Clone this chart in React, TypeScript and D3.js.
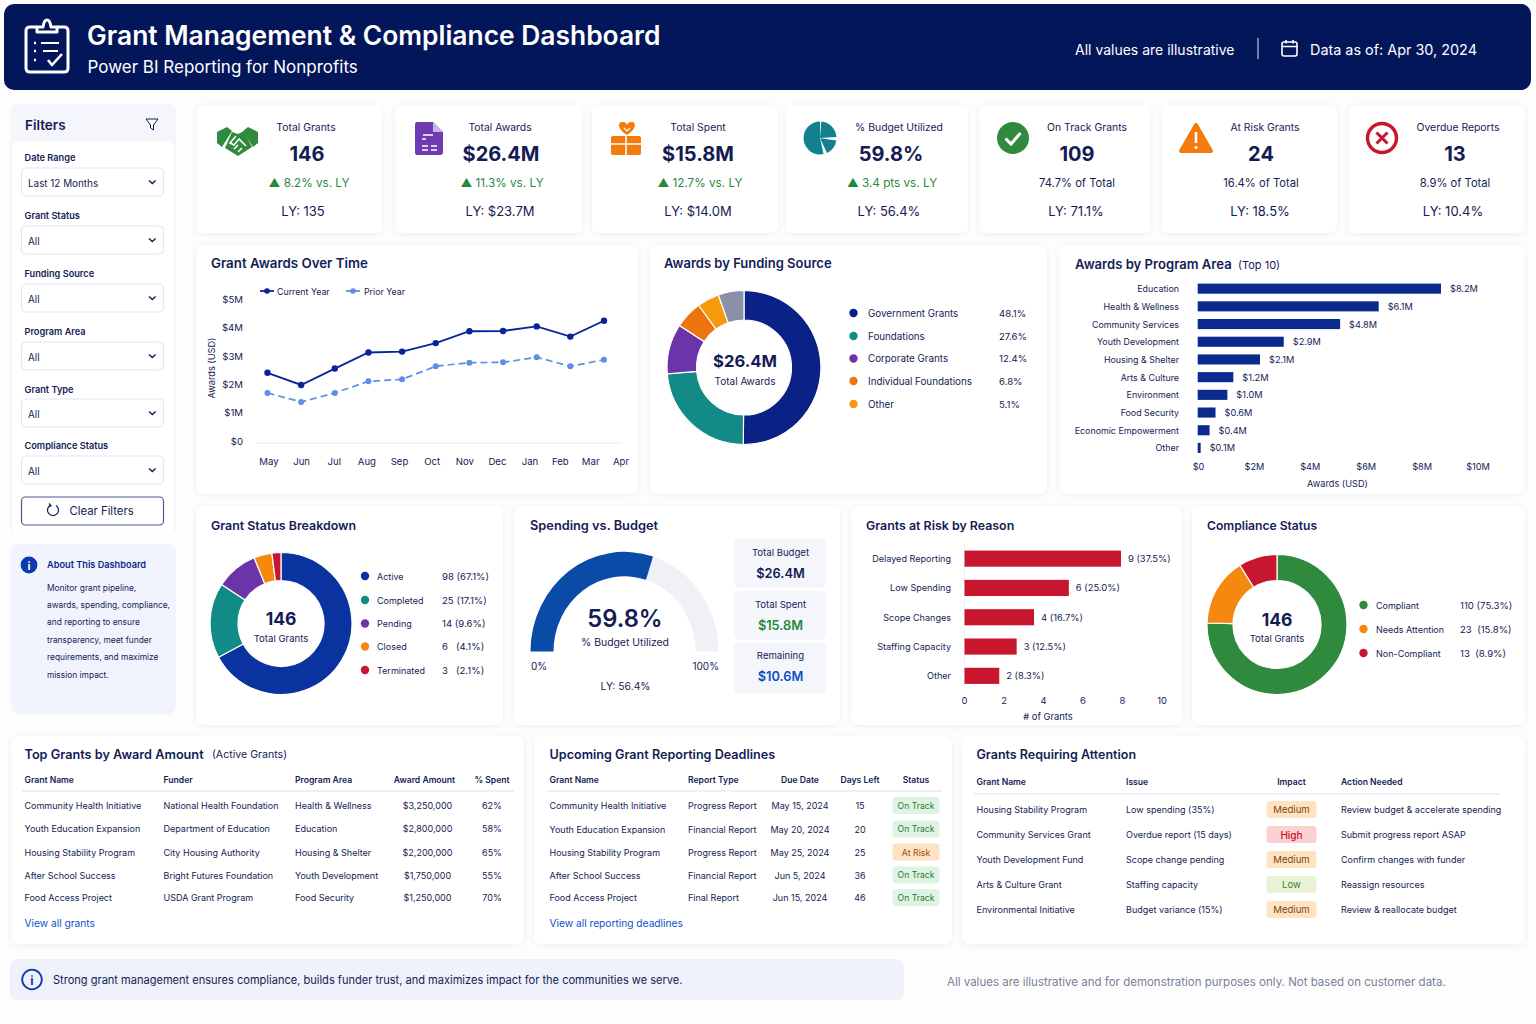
import * as d3 from "d3";

const FONT = "Inter, 'Noto Sans', sans-serif";
const INK = "#141c55";
const NAVY = "#0a2a8e";
const GREEN = "#2f8a3e";
const RED = "#c8162e";
const ORANGE = "#f47c0e";
const AMBER = "#f59a0c";
const TEAL = "#128a86";
const PURPLE = "#6b34a8";
const LINK = "#0b50c8";

// KPI row
const kpiLabels = ["Total Grants", "Total Awards", "Total Spent", "% Budget Utilized", "On Track Grants", "At Risk Grants", "Overdue Reports"];
const kpiValues = ["146", "$26.4M", "$15.8M", "59.8%", "109", "24", "13"];
const kpiNotes = ["▲ 8.2% vs. LY", "▲ 11.3% vs. LY", "▲ 12.7% vs. LY", "▲ 3.4 pts vs. LY", "74.7% of Total", "16.4% of Total", "8.9% of Total"];
const kpiLastYear = ["LY: 135", "LY: $23.7M", "LY: $14.0M", "LY: 56.4%", "LY: 71.1%", "LY: 18.5%", "LY: 10.4%"];

// filters
const filterLabels = ["Date Range", "Grant Status", "Funding Source", "Program Area", "Grant Type", "Compliance Status"];
const filterValues = ["Last 12 Months", "All", "All", "All", "All", "All"];
const aboutLines = [
  "Monitor grant pipeline,",
  "awards, spending, compliance,",
  "and reporting to ensure",
  "transparency, meet funder",
  "requirements, and maximize",
  "mission impact.",
];

// awards over time
const months = ["May", "Jun", "Jul", "Aug", "Sep", "Oct", "Nov", "Dec", "Jan", "Feb", "Mar", "Apr"];
const currentYear = [2.48, 2.05, 2.63, 3.2, 3.23, 3.53, 3.95, 3.96, 4.12, 3.76, 4.32];
const priorYear = [1.77, 1.45, 1.77, 2.18, 2.25, 2.71, 2.84, 2.85, 3.03, 2.71, 2.94];
const awardTicks = [0, 1, 2, 3, 4, 5];

// funding source
const fundingLabels = ["Government Grants", "Foundations", "Corporate Grants", "Individual Foundations", "Other"];
const fundingShares = ["48.1%", "27.6%", "12.4%", "6.8%", "5.1%"];
const fundingSlices = [50.1, 23.5, 10.5, 5.8, 4.6, 5.4];

// program area
const programLabels = ["Education", "Health & Wellness", "Community Services", "Youth Development", "Housing & Shelter", "Arts & Culture", "Environment", "Food Security", "Economic Empowerment", "Other"];
const programValues = [8.2, 6.1, 4.8, 2.9, 2.1, 1.2, 1.0, 0.6, 0.4, 0.1];
const programTicks = [0, 2, 4, 6, 8, 10];

// status
const statusLabels = ["Active", "Completed", "Pending", "Closed", "Terminated"];
const statusValues = [98, 25, 14, 6, 3];
const statusShares = ["98 (67.1%)", "25 (17.1%)", "14 (9.6%)", "6   (4.1%)", "3   (2.1%)"];

// spending
const budgetUtilized = 59.8;
const spendLabels = ["Total Budget", "Total Spent", "Remaining"];
const spendValues = ["$26.4M", "$15.8M", "$10.6M"];

// risk
const riskLabels = ["Delayed Reporting", "Low Spending", "Scope Changes", "Staffing Capacity", "Other"];
const riskValues = [9, 6, 4, 3, 2];
const riskShares = ["9 (37.5%)", "6 (25.0%)", "4 (16.7%)", "3 (12.5%)", "2 (8.3%)"];
const riskTicks = [0, 2, 4, 6, 8, 10];

// compliance
const complianceLabels = ["Compliant", "Needs Attention", "Non-Compliant"];
const complianceValues = [110, 23, 13];
const complianceShares = ["110 (75.3%)", "23  (15.8%)", "13  (8.9%)"];

// tables
const topGrantHeaders = ["Grant Name", "Funder", "Program Area", "Award Amount", "% Spent"];
const topGrantRows = [
  ["Community Health Initiative", "National Health Foundation", "Health & Wellness", "$3,250,000", "62%"],
  ["Youth Education Expansion", "Department of Education", "Education", "$2,800,000", "58%"],
  ["Housing Stability Program", "City Housing Authority", "Housing & Shelter", "$2,200,000", "65%"],
  ["After School Success", "Bright Futures Foundation", "Youth Development", "$1,750,000", "55%"],
  ["Food Access Project", "USDA Grant Program", "Food Security", "$1,250,000", "70%"],
];
const deadlineHeaders = ["Grant Name", "Report Type", "Due Date", "Days Left", "Status"];
const deadlineRows = [
  ["Community Health Initiative", "Progress Report", "May 15, 2024", "15", "On Track"],
  ["Youth Education Expansion", "Financial Report", "May 20, 2024", "20", "On Track"],
  ["Housing Stability Program", "Progress Report", "May 25, 2024", "25", "At Risk"],
  ["After School Success", "Financial Report", "Jun 5, 2024", "36", "On Track"],
  ["Food Access Project", "Final Report", "Jun 15, 2024", "46", "On Track"],
];
const attentionHeaders = ["Grant Name", "Issue", "Impact", "Action Needed"];
const attentionRows = [
  ["Housing Stability Program", "Low spending (35%)", "Medium", "Review budget & accelerate spending"],
  ["Community Services Grant", "Overdue report (15 days)", "High", "Submit progress report ASAP"],
  ["Youth Development Fund", "Scope change pending", "Medium", "Confirm changes with funder"],
  ["Arts & Culture Grant", "Staffing capacity", "Low", "Reassign resources"],
  ["Environmental Initiative", "Budget variance (15%)", "Medium", "Review & reallocate budget"],
];

const BADGE: Record<string, { bg: string; fg: string; size: number }> = {
  "On Track": { bg: "#dff3e2", fg: "#1f7a35", size: 8.6 },
  "At Risk": { bg: "#fde3c4", fg: "#a3470e", size: 8.8 },
  Medium: { bg: "#fde3c0", fg: "#7d4310", size: 9.6 },
  High: { bg: "#fbd0d3", fg: "#c8102e", size: 10 },
  Low: { bg: "#e8f3d6", fg: "#3f7a3a", size: 9.6 },
};

// layout
const KPI_CARDS = [[197, 382], [395, 582], [592, 778], [786, 968], [979, 1150], [1162, 1337], [1349, 1525]];
const KPI_X = [
  [306, 307, 309, 303],
  [500, 501, 502, 500],
  [698, 698, 700, 698],
  [899, 891, 892, 889],
  [1087, 1077, 1077, 1076],
  [1265, 1261, 1261, 1260],
  [1458, 1455, 1455, 1453],
];
const FILTER_BOX_Y = [168, 226, 284, 342, 399, 456];
const FILTER_LABEL_Y = [157.5, 215.5, 273, 331, 389, 445];
const PANELS = [
  [196, 245, 442, 249], [650, 245, 397, 249], [1059, 245, 466, 249],
  [196, 506, 307, 219], [514, 506, 326, 219], [851, 506, 331, 219], [1192, 506, 333, 219],
  [11, 736, 513, 208], [534, 736, 418, 208], [962, 736, 563, 208],
];

function T({ x, y, size = 10, weight = 400, fill = INK, anchor = "start", children, ...rest }: any) {
  return (
    <text x={x} y={y} fontSize={size} fontWeight={weight} fill={fill} textAnchor={anchor} dominantBaseline="central" fontFamily={FONT} style={{ whiteSpace: "pre" }} {...rest}>
      {children}
    </text>
  );
}

function Donut({ cx, cy, outer, inner, values, colors }: { cx: number; cy: number; outer: number; inner: number; values: number[]; colors: string[] }) {
  const arcs = d3.pie<number>().sort(null)(values);
  const arc = d3.arc<d3.PieArcDatum<number>>().innerRadius(inner).outerRadius(outer);
  return (
    <g transform={`translate(${cx},${cy})`}>
      {arcs.map((a, i) => (
        <path key={i} d={arc(a) as string} fill={colors[i]} stroke="#fff" strokeWidth={1.2} />
      ))}
    </g>
  );
}

function Legend({ labels, colors, values, ys, dotX, labelX, valueX, size = 9.8 }: any) {
  return (
    <g>
      {labels.map((l: string, i: number) => (
        <g key={l}>
          <circle cx={dotX} cy={ys[i]} r={4.2} fill={colors[i]} />
          <T x={labelX} y={ys[i]} size={size}>{l}</T>
          <T x={valueX} y={ys[i]} size={9.6}>{values[i]}</T>
        </g>
      ))}
    </g>
  );
}

function Badge({ cx, y, w, label }: { cx: number; y: number; w: number; label: string }) {
  const c = BADGE[label];
  return (
    <g>
      <rect x={cx - w / 2} y={y - 8.5} width={w} height={17} rx={3.5} fill={c.bg} />
      <T x={cx} y={y} size={c.size} anchor="middle" fill={c.fg} weight={label === "High" ? 500 : 400}>{label}</T>
    </g>
  );
}

function LineChart() {
  const y = d3.scaleLinear().domain([0, 5]).range([443, 301.5]);
  const xPts = d3.scalePoint<string>().domain(months.slice(0, currentYear.length)).range([267.5, 604]);
  // the month labels are not evenly spread in the picture
  const xLabels = d3.scaleLinear().domain([0, 8, 11]).range([269, 530, 621]);
  const line = d3.line<number>().x((_, i) => xPts(months[i]) as number).y((d) => y(d));
  return (
    <g>
      <T x={211} y={263} size={13.3} weight={600}>Grant Awards Over Time</T>
      <line x1={260} x2={274} y1={291} y2={291} stroke="#08249a" strokeWidth={1.8} />
      <circle cx={267} cy={291} r={2.8} fill="#08249a" />
      <T x={277} y={291} size={8.8}>Current Year</T>
      <line x1={346} x2={360} y1={291} y2={291} stroke="#5e8fe6" strokeWidth={1.8} />
      <circle cx={353} cy={291} r={2.8} fill="#5e8fe6" />
      <T x={364} y={291} size={8.8}>Prior Year</T>
      {awardTicks.map((t) => (
        <T key={t} x={243} y={y(t) - 2} size={9.6} anchor="end">{`$${t}${t ? "M" : ""}`}</T>
      ))}
      <line x1={256} x2={622} y1={443} y2={443} stroke="#e6e9f5" strokeWidth={1.2} />
      <T x={211} y={368} size={9.2} anchor="middle" transform="rotate(-90 211 368)">Awards (USD)</T>
      {months.map((m, i) => (
        <T key={m} x={xLabels(i)} y={461} size={9.6} anchor="middle">{m}</T>
      ))}
      <path d={line(priorYear) as string} fill="none" stroke="#5e8fe6" strokeWidth={1.7} strokeDasharray="7 4" />
      {priorYear.map((v, i) => (
        <circle key={i} cx={xPts(months[i])} cy={y(v)} r={3} fill="#5e8fe6" />
      ))}
      <path d={line(currentYear) as string} fill="none" stroke="#08249a" strokeWidth={1.9} />
      {currentYear.map((v, i) => (
        <circle key={i} cx={xPts(months[i])} cy={y(v)} r={3.2} fill="#08249a" />
      ))}
    </g>
  );
}

function ProgramBars() {
  const y = d3.scaleBand<string>().domain(programLabels).range([279.8, 456.8]).paddingInner(0.43).paddingOuter(0.215);
  const xBar = d3.scaleLinear().domain([0, 8.2]).range([1197.7, 1441]);
  const xAxis = d3.scaleLinear().domain([0, 10]).range([1198.5, 1478]);
  return (
    <g>
      <T x={1075} y={264} size={13.1} weight={600}>Awards by Program Area</T>
      <T x={1238} y={264.5} size={11}>(Top 10)</T>
      {programLabels.map((l, i) => {
        const cy = (y(l) as number) + y.bandwidth() / 2;
        return (
          <g key={l}>
            <T x={1179} y={cy} size={8.9} anchor="end">{l}</T>
            <rect x={xBar(0)} y={y(l)} width={xBar(programValues[i]) - xBar(0)} height={y.bandwidth()} fill={NAVY} />
            <T x={xBar(programValues[i]) + 9} y={cy} size={9.2}>{`$${programValues[i].toFixed(1)}M`}</T>
          </g>
        );
      })}
      {programTicks.map((t) => (
        <T key={t} x={xAxis(t)} y={466} size={9.2} anchor="middle">{`$${t}${t ? "M" : ""}`}</T>
      ))}
      <T x={1337.5} y={483.5} size={9.2} anchor="middle">Awards (USD)</T>
    </g>
  );
}

function RiskBars() {
  const y = d3.scaleBand<string>().domain(riskLabels).range([544, 690.5]).paddingInner(0.45).paddingOuter(0.225);
  const xBar = d3.scaleLinear().domain([0, 9]).range([964.5, 1121]);
  const xAxis = d3.scaleLinear().domain([0, 10]).range([964.5, 1162]);
  return (
    <g>
      <T x={866} y={525} size={12.4} weight={600}>Grants at Risk by Reason</T>
      <line x1={964.5} x2={964.5} y1={544} y2={690} stroke="#eef0f7" />
      {riskLabels.map((l, i) => {
        const cy = (y(l) as number) + y.bandwidth() / 2;
        return (
          <g key={l}>
            <T x={951} y={cy} size={9.05} anchor="end">{l}</T>
            <rect x={xBar(0)} y={y(l)} width={xBar(riskValues[i]) - xBar(0)} height={y.bandwidth()} fill={RED} />
            <T x={xBar(riskValues[i]) + 7} y={cy} size={9.4}>{riskShares[i]}</T>
          </g>
        );
      })}
      {riskTicks.map((t) => (
        <T key={t} x={xAxis(t)} y={700} size={9.4} anchor="middle">{t}</T>
      ))}
      <T x={1048} y={716} size={9.4} anchor="middle">{"# of Grants"}</T>
    </g>
  );
}

function Gauge() {
  const cx = 624.5;
  const cy = 651.5;
  const pie = d3.scaleLinear().domain([0, 100]).range([-Math.PI / 2, Math.PI / 2]);
  const arc = d3.arc<any>().innerRadius(71).outerRadius(94);
  return (
    <g>
      <T x={530} y={525} size={12.8} weight={600}>Spending vs. Budget</T>
      <g transform={`translate(${cx},${cy}) scale(1,1.06)`}>
        <path d={arc({ startAngle: pie(0), endAngle: pie(100) }) as string} fill="#f0f1f7" />
        <path d={arc({ startAngle: pie(0), endAngle: pie(budgetUtilized) }) as string} fill="#0a4ba8" />
      </g>
      <T x={625} y={618} size={23.7} weight={600} anchor="middle">{`${budgetUtilized}%`}</T>
      <T x={625} y={642} size={10.4} anchor="middle">% Budget Utilized</T>
      <T x={531} y={665.5} size={10}>0%</T>
      <T x={719} y={665.5} size={10} anchor="end">100%</T>
      <T x={625.5} y={686} size={10.4} anchor="middle">LY: 56.4%</T>
      {spendLabels.map((l, i) => {
        const top = [539, 591, 642][i];
        const colors = [INK, "#1f8a3a", "#0b50c0"];
        return (
          <g key={l}>
            <rect x={734} y={top} width={92} height={i === 2 ? 51 : 49} rx={5} fill="#f5f6fb" />
            <T x={780.5} y={top + 13.5} size={9.6} anchor="middle">{l}</T>
            <T x={780.5} y={top + 34} size={12.8} weight={600} anchor="middle" fill={colors[i]}>{spendValues[i]}</T>
          </g>
        );
      })}
    </g>
  );
}

function Table({ title, titleSize, note, headers, rows, cols, rowCols, anchors, headerY, lineY, lineX, rowYs, link, badgeCol, badgeW }: any) {
  const cellX = rowCols ?? cols;
  return (
    <g>
      <T x={cols[0]} y={754} size={titleSize} weight={600}>{title}</T>
      {note && <T x={212} y={754.5} size={10.6}>{note}</T>}
      {headers.map((h: string, i: number) => (
        <T key={h} x={cols[i]} y={headerY} size={8.6} weight={600} anchor={anchors[i]}>{h}</T>
      ))}
      <line x1={lineX[0]} x2={lineX[1]} y1={lineY} y2={lineY} stroke="#dfe2ee" strokeWidth={1.2} />
      {rows.map((r: string[], ri: number) =>
        r.map((c: string, ci: number) =>
          ci === badgeCol ? (
            <Badge key={`${ri}-${ci}`} cx={cellX[ci]} y={rowYs[ri]} w={badgeW} label={c} />
          ) : (
            <T key={`${ri}-${ci}`} x={cellX[ci]} y={rowYs[ri]} size={9} anchor={anchors[ci]}>{c}</T>
          ),
        ),
      )}
      {link && <T x={cols[0]} y={923} size={10.2} fill={LINK}>{link}</T>}
    </g>
  );
}

function KpiIcons() {
  const pieArc = d3.arc<any>();
  return (
    <g>
      {/* handshake */}
      <g fill={GREEN}>
        <path d="M217 132 L227 127 L232 131 L222 147 L217 143 Z" />
        <path d="M258 132 L248 127 L243 131 L253 147 L258 143 Z" />
        <path d="M232 132 L238 134 L244 131 L252 147 L238 156 L225 148 Z" />
      </g>
      <path d="M236 136 L230 143 L234 145 L239 139 L246 146 M234 149 L238 145 M238 152 L242 148" fill="none" stroke="#fff" strokeWidth={1.6} />
      {/* document */}
      <path d="M417 122 H433 L443 132 V152 Q443 155 440 155 H417 Q415 155 415 152 V125 Q415 122 417 122 Z" fill="#6f3bb0" />
      <path d="M433 122 V132 H443" fill="#c9b4e6" />
      <path d="M423 135 H433 M422 139 H426 M422 146 H428 M431 146 H437 M422 150 H428 M431 150 H437" stroke="#fff" strokeWidth={1.5} fill="none" />
      {/* gift */}
      <path d="M627 135 C616 128 618 121 623 122 Q626 122 627 125 Q628 122 631 122 C636 121 638 128 627 135 Z" fill={ORANGE} />
      <rect x={611} y={136} width={30} height={19} rx={2} fill={ORANGE} />
      <path d="M611 144 H641 M626 136 V155" stroke="#fff" strokeWidth={1.5} />
      <path d="M624 128 L627 131 L630 128" stroke="#fff" strokeWidth={1.2} fill="none" />
      {/* pie */}
      <g transform="translate(820,138)" fill="#12808f">
        <path d={pieArc({ innerRadius: 0, outerRadius: 16.5, startAngle: Math.PI * 0.93, endAngle: Math.PI * 2 }) as string} />
        <path d={pieArc({ innerRadius: 0, outerRadius: 16.5, startAngle: 0.08, endAngle: Math.PI * 0.48 }) as string} />
        <path d={pieArc({ innerRadius: 1, outerRadius: 16.5, startAngle: Math.PI * 0.55, endAngle: Math.PI * 0.86 }) as string} />
      </g>
      {/* on track */}
      <circle cx={1013} cy={138} r={16} fill={GREEN} />
      <path d="M1005.5 138.5 L1011 144 L1020.5 133" fill="none" stroke="#fff" strokeWidth={3} />
      {/* at risk */}
      <path d="M1196 125 L1211 151 H1181 Z" fill={ORANGE} stroke={ORANGE} strokeWidth={4} strokeLinejoin="round" />
      <path d="M1196 132 V143" stroke="#fff" strokeWidth={2.6} />
      <circle cx={1196} cy={147.5} r={1.6} fill="#fff" />
      {/* overdue */}
      <circle cx={1382} cy={138} r={14.5} fill="none" stroke={RED} strokeWidth={3.4} />
      <path d="M1376.5 132.5 L1387.5 143.5 M1387.5 132.5 L1376.5 143.5" stroke={RED} strokeWidth={3} />
    </g>
  );
}

export default function App() {
  return (
    <svg width={1536} height={1024} viewBox="0 0 1536 1024" style={{ position: "absolute", left: 0, top: 0, display: "block" }}>
      <defs>
        <filter id="soft" x="-5%" y="-5%" width="110%" height="110%">
          <feDropShadow dx={0} dy={1} stdDeviation={3} floodColor="#1a2a6c" floodOpacity={0.06} />
        </filter>
      </defs>
      <rect width={1536} height={1024} fill="#fdfdfe" />

      {/* header */}
      <rect x={4} y={4} width={1527} height={86} rx={10} fill="#03165a" />
      <g fill="none" stroke="#fff" strokeWidth={3} strokeLinejoin="round">
        <path d="M37 27 H30 Q26 27 26 31 V68 Q26 72 30 72 H64 Q68 72 68 68 V31 Q68 27 64 27 H57" />
        <path d="M37 32 V27 H43 Q44 20 47 20 Q50 20 51 27 H57 V32 Z" />
        <path d="M41 43 H59 M43 51 H58" strokeWidth={2.2} />
        <path d="M48 60 L52 65 L62 54" strokeWidth={2.6} />
        <path d="M34 43 H36 M34 51 H36 M34 60 H36" strokeWidth={2.6} />
      </g>
      <T x={87} y={35} size={26.4} weight={600} fill="#fff">Grant Management &amp; Compliance Dashboard</T>
      <T x={87.5} y={67} size={17} fill="#fff">Power BI Reporting for Nonprofits</T>
      <T x={1075} y={49.5} size={14} fill="#fff">All values are illustrative</T>
      <line x1={1258} x2={1258} y1={38} y2={59} stroke="#c6cce2" strokeWidth={1.2} />
      <g fill="none" stroke="#fff" strokeWidth={1.6}>
        <rect x={1282} y={42} width={15} height={14} rx={2} />
        <path d="M1282 46.5 H1297 M1286 40 V43.5 M1293 40 V43.5" />
      </g>
      <T x={1310} y={49.5} size={14.4} fill="#fff">Data as of: Apr 30, 2024</T>

      {/* filters */}
      <rect x={10} y={104} width={166} height={430} rx={8} fill="#f5f6fb" />
      <rect x={12} y={141} width={162} height={393} rx={6} fill="#fff" />
      <T x={25} y={125} size={13.5} weight={600}>Filters</T>
      <path d="M146 119 H158 L153.5 125 V130 L150.5 128 V125 Z" fill="none" stroke={INK} strokeWidth={1} />
      {filterLabels.map((l, i) => (
        <g key={l}>
          <T x={24.5} y={FILTER_LABEL_Y[i]} size={9.2} weight={600}>{l}</T>
          <rect x={21.5} y={FILTER_BOX_Y[i]} width={142} height={28} rx={4} fill="#fff" stroke="#e2e5f2" />
          <T x={28} y={FILTER_BOX_Y[i] + 15} size={9.9}>{filterValues[i]}</T>
          <path d={`M149 ${FILTER_BOX_Y[i] + 12.5} L152.3 ${FILTER_BOX_Y[i] + 15.5} L155.6 ${FILTER_BOX_Y[i] + 12.5}`} fill="none" stroke={INK} strokeWidth={1.4} />
        </g>
      ))}
      <rect x={21.5} y={497} width={142} height={28} rx={4} fill="#fff" stroke="#4a5a96" strokeWidth={1.2} />
      <path d="M50 505.5 A5.5 5.5 0 1 0 56 505.5 M49 503.5 L51 505.8 L48.5 507" fill="none" stroke={INK} strokeWidth={1.2} />
      <T x={69.5} y={511} size={11.3}>Clear Filters</T>

      <rect x={11} y={544} width={165} height={170} rx={8} fill="#f1f4fc" />
      <circle cx={29} cy={565} r={8.4} fill="#0a3ab0" />
      <T x={29} y={565.5} size={11} weight={700} fill="#fff" anchor="middle">i</T>
      <T x={47} y={564.5} size={9.2} weight={600} fill="#0a2a8e">About This Dashboard</T>
      {aboutLines.map((l, i) => (
        <T key={l} x={47} y={587.5 + i * 17.4} size={8.4}>{l}</T>
      ))}

      {/* KPI cards */}
      {KPI_CARDS.map(([a, b], i) => (
        <rect key={i} x={a} y={105} width={b - a} height={128} rx={7} fill="#fff" filter="url(#soft)" />
      ))}
      <KpiIcons />
      {kpiLabels.map((l, i) => (
        <g key={l}>
          <T x={KPI_X[i][0]} y={127} size={10.4} anchor="middle">{l}</T>
          <T x={KPI_X[i][1]} y={153.5} size={20} weight={700} anchor="middle">{kpiValues[i]}</T>
          <T x={KPI_X[i][2]} y={183} size={i < 4 ? 11.7 : 11.2} anchor="middle" fill={i < 4 ? "#1f8a3a" : INK}>{kpiNotes[i]}</T>
          <T x={KPI_X[i][3]} y={211} size={13} anchor="middle">{kpiLastYear[i]}</T>
        </g>
      ))}

      {/* panels */}
      {PANELS.map(([x, y, w, h], i) => (
        <rect key={i} x={x} y={y} width={w} height={h} rx={8} fill="#fff" filter="url(#soft)" />
      ))}

      <LineChart />

      <T x={664} y={263} size={13} weight={600}>Awards by Funding Source</T>
      <Donut cx={744} cy={367.5} outer={77} inner={47.5} values={fundingSlices} colors={["#0a2285", TEAL, PURPLE, "#ee7410", AMBER, "#8a90a8"]} />
      <T x={745} y={361} size={16.6} weight={700} anchor="middle">$26.4M</T>
      <T x={745} y={381} size={10} anchor="middle">Total Awards</T>
      <Legend labels={fundingLabels} values={fundingShares} colors={["#0a2285", TEAL, PURPLE, "#ee7410", AMBER]} ys={[313, 336, 358.5, 381, 404]} dotX={853.5} labelX={868} valueX={999} />

      <ProgramBars />

      <T x={211} y={525} size={12.4} weight={600}>Grant Status Breakdown</T>
      <Donut cx={281} cy={623.5} outer={71} inner={43} values={statusValues} colors={["#0a33a0", TEAL, PURPLE, "#f5890f", RED]} />
      <T x={281} y={618.5} size={17.5} weight={700} anchor="middle">146</T>
      <T x={281} y={638} size={9.6} anchor="middle">Total Grants</T>
      <Legend labels={statusLabels} values={statusShares} colors={["#0a33a0", TEAL, PURPLE, "#f5890f", RED]} ys={[576, 600, 623.5, 646.5, 670]} dotX={365} labelX={377} valueX={442} size={9} />

      <Gauge />
      <RiskBars />

      <T x={1207} y={525} size={12.1} weight={600}>Compliance Status</T>
      <Donut cx={1277} cy={624.5} outer={70} inner={44} values={complianceValues} colors={[GREEN, "#f5890f", RED]} />
      <T x={1277} y={619} size={17.5} weight={700} anchor="middle">146</T>
      <T x={1277} y={638} size={9.6} anchor="middle">Total Grants</T>
      <Legend labels={complianceLabels} values={complianceShares} colors={[GREEN, "#f5890f", RED]} ys={[605, 629, 653]} dotX={1363.5} labelX={1376} valueX={1460} size={9} />

      <Table
        title="Top Grants by Award Amount"
        titleSize={12.7}
        note="(Active Grants)"
        headers={topGrantHeaders}
        rows={topGrantRows}
        cols={[24.5, 163.5, 295, 424.5, 492]}
        rowCols={[24.5, 163.5, 295, 427.5, 492]}
        anchors={["start", "start", "start", "middle", "middle"]}
        headerY={779.5}
        lineY={791}
        lineX={[22, 514]}
        rowYs={[805, 828.5, 852, 875, 897.5]}
        link="View all grants"
      />
      <Table
        title="Upcoming Grant Reporting Deadlines"
        titleSize={12.6}
        headers={deadlineHeaders}
        rows={deadlineRows}
        cols={[549.5, 688, 800, 860, 916]}
        anchors={["start", "start", "middle", "middle", "middle"]}
        headerY={780}
        lineY={791}
        lineX={[547, 942]}
        rowYs={[805.5, 829, 852, 875, 897.5]}
        link="View all reporting deadlines"
        badgeCol={4}
        badgeW={47}
      />
      <Table
        title="Grants Requiring Attention"
        titleSize={12.5}
        headers={attentionHeaders}
        rows={attentionRows}
        cols={[976.5, 1126, 1291.5, 1341]}
        anchors={["start", "start", "middle", "start"]}
        headerY={781.5}
        lineY={794}
        lineX={[974, 1500]}
        rowYs={[809.5, 834.5, 859.5, 884.5, 909.5]}
        badgeCol={2}
        badgeW={50}
      />

      {/* footer */}
      <rect x={10} y={959} width={894} height={41} rx={8} fill="#eff2fb" />
      <circle cx={32} cy={979.5} r={9.8} fill="none" stroke="#0a3ab0" strokeWidth={1.8} />
      <T x={32} y={980} size={12} weight={700} fill="#0a3ab0" anchor="middle">i</T>
      <T x={53} y={979.5} size={11.05}>Strong grant management ensures compliance, builds funder trust, and maximizes impact for the communities we serve.</T>
      <T x={947} y={981.5} size={11.5} fill="#7a8098">All values are illustrative and for demonstration purposes only. Not based on customer data.</T>
    </svg>
  );
}
